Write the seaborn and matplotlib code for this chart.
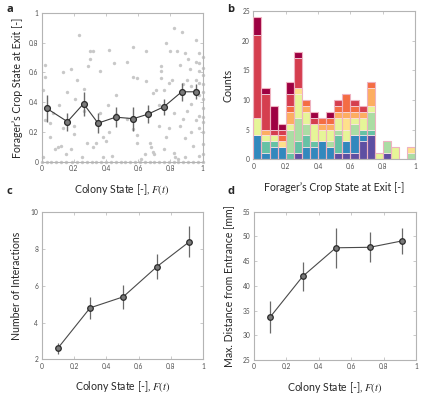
import numpy as np
import pandas as pd
import matplotlib
matplotlib.use("Agg")
import matplotlib.pyplot as plt
import seaborn as sns

# ---------------- data ----------------
# panel a: individual foragers (colony state, crop state at exit)
scatter_x = [0.02, 0.02, 0.01, 0.02, 0.05, 0.07, 0.10, 0.11, 0.13, 0.13, 0.16, 0.18, 0.18, 0.20,
             0.20, 0.21, 0.22, 0.23, 0.26, 0.26, 0.28, 0.29, 0.30, 0.30, 0.32, 0.32, 0.34, 0.36,
             0.36, 0.38, 0.40, 0.41, 0.42, 0.42, 0.45, 0.46, 0.46, 0.53, 0.53, 0.57, 0.57, 0.57,
             0.59, 0.59, 0.59, 0.65, 0.65, 0.66, 0.67, 0.68, 0.69, 0.69, 0.71, 0.73, 0.73, 0.74,
             0.74, 0.74, 0.76, 0.76, 0.77, 0.77, 0.79, 0.79, 0.80, 0.81, 0.82, 0.82, 0.82, 0.83,
             0.84, 0.86, 0.86, 0.87, 0.88, 0.88, 0.89, 0.89, 0.89, 0.90, 0.90, 0.91, 0.92, 0.93,
             0.93, 0.93, 0.94, 0.95, 0.96, 0.96, 0.96, 0.96, 0.98, 0.98, 0.98, 0.98, 0.98, 0.98,
             0.98, 0.98, 0.01, 0.08, 0.12, 0.05, 0.15, 0.25, 0.44, 0.62, 0.70, 0.85, 0.64, 0.38,
             0.0, 0.03, 0.06, 0.09, 0.12, 0.15, 0.19, 0.22, 0.25, 0.28, 0.31, 0.34, 0.37, 0.40,
             0.43, 0.46, 0.49, 0.52, 0.55, 0.58, 0.61, 0.64, 0.67, 0.70, 0.73, 0.76, 0.79, 0.82,
             0.85, 0.88, 0.91, 0.94, 0.97, 1.0,
             1.0, 1.0, 1.0, 1.0, 1.0, 1.0, 1.0, 1.0, 1.0, 1.0, 1.0, 1.0]
scatter_y = [0.65, 0.57, 0.48, 0.28, 0.26, 0.33, 0.10, 0.38, 0.60, 0.23, 0.47, 0.62, 0.09, 0.24,
             0.19, 0.42, 0.55, 0.85, 0.49, 0.34, 0.13, 0.64, 0.74, 0.69, 0.74, 0.10, 0.13, 0.61,
             0.33, 0.17, 0.14, 0.38, 0.75, 0.20, 0.66, 0.45, 0.32, 0.67, 0.29, 0.77, 0.57, 0.22,
             0.56, 0.18, 0.13, 0.74, 0.54, 0.32, 0.13, 0.10, 0.46, 0.07, 0.48, 0.38, 0.24, 0.64,
             0.61, 0.56, 0.48, 0.09, 0.80, 0.17, 0.53, 0.23, 0.74, 0.55, 0.90, 0.33, 0.06, 0.03,
             0.74, 0.65, 0.24, 0.87, 0.52, 0.29, 0.73, 0.16, 0.03, 0.55, 0.34, 0.69, 0.62, 0.51,
             0.39, 0.20, 0.11, 0.48, 0.82, 0.67, 0.55, 0.28, 0.73, 0.66, 0.61, 0.53, 0.45, 0.31,
             0.23, 0.04, 0.03, 0.09, 0.11, 0.17, 0.05, 0.03, 0.04, 0.02, 0.05, 0.02, 0.05, 0.03,
             0.0, 0.0, 0.0, 0.0, 0.0, 0.0, 0.0, 0.0, 0.0, 0.0, 0.0, 0.0, 0.0, 0.0,
             0.0, 0.0, 0.0, 0.0, 0.0, 0.0, 0.0, 0.0, 0.0, 0.0, 0.0, 0.0, 0.0, 0.0,
             0.0, 0.0, 0.0, 0.0, 0.0, 0.0,
             0.05, 0.12, 0.20, 0.27, 0.30, 0.36, 0.42, 0.47, 0.52, 0.58, 0.63, 0.70]

# panel a: binned means
mean_a_x = [0.03, 0.16, 0.26, 0.35, 0.46, 0.57, 0.66, 0.76, 0.87, 0.96]
mean_a_y = [0.36, 0.27, 0.39, 0.26, 0.30, 0.29, 0.32, 0.37, 0.47, 0.47]
err_a = [0.09, 0.06, 0.08, 0.065, 0.065, 0.08, 0.06, 0.055, 0.06, 0.05]

# panel b: stacked histogram, 20 bins of width 0.05, 10 colony-state classes (bottom -> top)
bin_edges = [i * 0.05 for i in range(21)]
hist_counts = [
    [0, 4, 0, 0, 3, 0, 0, 0, 14, 3],
    [0, 1, 2, 0, 1, 0, 1, 0, 6, 1],
    [0, 2, 1, 0, 1, 0, 0, 0, 1, 4],
    [0, 2, 0, 0, 0, 1, 0, 1, 1, 1],
    [0, 0, 1, 4, 1, 0, 2, 1, 2, 2],
    [1, 0, 2, 4, 4, 1, 0, 0, 5, 1],
    [0, 2, 2, 2, 2, 0, 1, 1, 0, 0],
    [0, 2, 1, 0, 3, 0, 0, 0, 1, 1],
    [0, 3, 0, 0, 2, 0, 1, 1, 0, 0],
    [0, 2, 0, 1, 2, 0, 1, 1, 0, 1],
    [1, 0, 3, 1, 2, 0, 1, 1, 1, 0],
    [1, 2, 0, 0, 2, 2, 1, 3, 0, 0],
    [1, 3, 0, 2, 1, 0, 1, 1, 1, 0],
    [3, 1, 1, 0, 2, 0, 1, 0, 1, 0],
    [4, 0, 1, 3, 1, 0, 3, 1, 0, 0],
    [0, 0, 0, 0, 1, 0, 0, 0, 0, 0],
    [1, 0, 0, 2, 0, 0, 0, 0, 0, 0],
    [0, 0, 0, 0, 2, 0, 0, 0, 0, 0],
    [0, 0, 0, 0, 0, 0, 0, 0, 0, 0],
    [0, 0, 0, 1, 0, 1, 0, 0, 0, 0],
]
class_colors = ["#5e4fa2", "#3288bd", "#66c2a5", "#abdda4", "#e6f598",
                "#fee08b", "#fdae61", "#f46d43", "#d53e4f", "#9e0142"]

# panel c: number of interactions
state_x = [0.10, 0.30, 0.505, 0.715, 0.915]
inter_y = [2.6, 4.8, 5.4, 7.05, 8.4]
inter_err = [0.3, 0.6, 0.65, 0.7, 0.85]

# panel d: max distance from entrance
dist_y = [33.7, 41.9, 47.7, 47.8, 49.1]
dist_err = [3.3, 3.0, 4.0, 3.0, 2.7]

# ---------------- style ----------------
sns.set_theme(style="white")
plt.rcParams["font.family"] = ["Lato", "DejaVu Sans"]
plt.rcParams["mathtext.fontset"] = "stix"

fig = plt.figure(figsize=(4.28, 3.96), dpi=100)
pos = {
    "a": [0.0974, 0.591, 0.376, 0.377],
    "b": [0.592, 0.598, 0.378, 0.3745],
    "c": [0.0974, 0.0927, 0.377, 0.371],
    "d": [0.5935, 0.0909, 0.3785, 0.3745],
}
axes = {k: fig.add_axes(v) for k, v in pos.items()}

spine_col = "#b4b4b4"
tick_col = "#505050"
lab_fs = 7.6


def style_ax(ax):
    for s in ax.spines.values():
        s.set_color(spine_col)
        s.set_linewidth(0.8)
    ax.tick_params(direction="in", length=2, width=0.5, colors=spine_col,
                   labelcolor=tick_col, labelsize=4.8, top=True, right=True,
                   bottom=True, left=True, pad=2.5)


xt = [0, 0.2, 0.4, 0.6, 0.8, 1.0]
xtl = ["0", "0.2", "0.4", "0.6", "0.8", "1"]

# ---- a ----
ax = axes["a"]
sns.scatterplot(x=scatter_x, y=scatter_y, ax=ax, color="#c8c8c8", s=6,
                linewidth=0, zorder=1, clip_on=False)
ax.errorbar(mean_a_x, mean_a_y, yerr=err_a, fmt="none", ecolor="#6a6a6a",
            elinewidth=1.0, zorder=2)
sns.lineplot(x=mean_a_x, y=mean_a_y, ax=ax, color="#3c3c3c", linewidth=0.8,
             marker="o", markersize=4.2, markerfacecolor="#7a7a7a",
             markeredgecolor="#2a2a2a", markeredgewidth=0.9, zorder=3)
ax.set_xlim(0, 1)
ax.set_ylim(0, 1)
ax.set_xticks(xt, xtl)
ax.set_yticks(xt, xtl)
ax.set_xlabel("Colony State [-], $F(t)$", fontsize=lab_fs, labelpad=7)
ax.set_ylabel("Forager\u2019s Crop State at Exit [-]", fontsize=lab_fs, labelpad=4)
style_ax(ax)

# ---- b ----
ax = axes["b"]
centers = [(bin_edges[i] + bin_edges[i + 1]) / 2 for i in range(20)]
counts = np.array(hist_counts)
bottom = np.zeros(20)
for k in range(10):
    ax.bar(centers, counts[:, k], width=0.05, bottom=bottom, color=class_colors[k],
           edgecolor="#fbe6ea", linewidth=0.5, zorder=2)
    bottom = bottom + counts[:, k]
ax.bar(centers, bottom, width=0.05, fill=False, edgecolor="#eeb2c0",
       linewidth=0.8, zorder=3)
ax.set_xlim(0, 1)
ax.set_ylim(0, 25)
ax.set_xticks(xt, xtl)
ax.set_yticks([0, 5, 10, 15, 20, 25])
ax.set_xlabel("Forager\u2019s Crop State at Exit [-]", fontsize=lab_fs, labelpad=9)
ax.set_ylabel("Counts", fontsize=lab_fs, labelpad=6)
style_ax(ax)


def mean_panel(ax, y, e, ylim, yticks, ylabel):
    ax.errorbar(state_x, y, yerr=e, fmt="none", ecolor="#6a6a6a",
                elinewidth=0.9, zorder=2)
    sns.lineplot(x=state_x, y=y, ax=ax, color="#4a4a4a", linewidth=0.8,
                 marker="o", markersize=4.0, markerfacecolor="#7a7a7a",
                 markeredgecolor="#2a2a2a", markeredgewidth=0.9, zorder=3)
    ax.set_xlim(0, 1)
    ax.set_ylim(*ylim)
    ax.set_xticks(xt, xtl)
    ax.set_yticks(yticks)
    ax.set_xlabel("Colony State [-], $F(t)$", fontsize=lab_fs, labelpad=7)
    ax.set_ylabel(ylabel, fontsize=lab_fs, labelpad=6)
    style_ax(ax)


mean_panel(axes["c"], inter_y, inter_err, (2, 10), [2, 4, 6, 8, 10],
           "Number of Interactions")
mean_panel(axes["d"], dist_y, dist_err, (25, 55), [25, 30, 35, 40, 45, 50, 55],
           "Max. Distance from Entrance [mm]")

for lbl, (xx, yy) in {"a": (7, 10), "b": (227, 10), "c": (7, 192), "d": (227, 192)}.items():
    fig.text(xx / 428, 1 - yy / 396, lbl, fontsize=8, fontweight="bold",
             ha="left", va="center", family=["Open Sans", "DejaVu Sans"])

fig.savefig("out.png", dpi=100)
